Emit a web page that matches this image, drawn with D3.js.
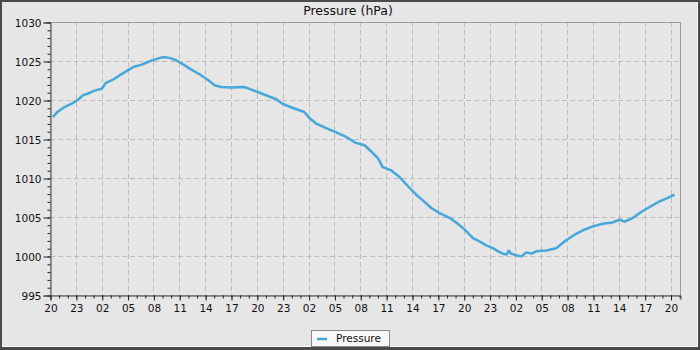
<!DOCTYPE html>
<html><head><meta charset="utf-8">
<script src="https://cdn.jsdelivr.net/npm/d3@7"></script>
<style>
html,body{margin:0;padding:0;background:#e6e6e6;}
svg{display:block;font-family:"DejaVu Sans",sans-serif;}
</style></head>
<body><svg id="c" width="700" height="350"></svg>
<script>
// Data: hours after start (20:00 day 1) and pressure (hPa)
const hours = [0.33,0.9,1.68,2.46,3.23,3.8,4.58,5.16,6.0,6.5,7.3,8.07,9.03,9.8,10.58,11.35,12.13,13.1,13.87,14.64,15.4,16.4,17.35,18.3,19.1,19.87,21.0,22.57,23.2,24.7,26.25,27.0,28.2,29.5,30.1,30.9,32.24,33.2,34.37,35.5,36.5,37.27,38.04,38.6,39.6,40.56,41.5,42.5,43.26,44.24,45.2,46.36,47.2,48.1,49.07,49.84,50.62,51.39,52.16,52.55,53.0,53.24,53.5,54.3,54.7,55.26,55.84,56.42,57.58,58.74,59.7,60.87,62.0,63.0,64.15,65.3,66.1,66.67,67.6,68.6,69.57,70.73,71.7,72.47];
const pressure = [1017.8,1018.5,1019.1,1019.5,1020.0,1020.6,1020.9,1021.2,1021.45,1022.2,1022.6,1023.15,1023.8,1024.3,1024.5,1024.87,1025.17,1025.5,1025.4,1025.1,1024.6,1023.9,1023.3,1022.6,1021.9,1021.67,1021.6,1021.67,1021.4,1020.77,1020.1,1019.5,1018.97,1018.46,1017.7,1016.96,1016.3,1015.85,1015.26,1014.5,1014.2,1013.4,1012.56,1011.4,1010.97,1010.13,1009.0,1007.86,1007.13,1006.15,1005.5,1004.9,1004.23,1003.4,1002.3,1001.87,1001.36,1001.0,1000.5,1000.3,1000.2,1000.7,1000.3,1000.04,999.95,1000.46,1000.3,1000.6,1000.7,1001.0,1001.87,1002.73,1003.37,1003.8,1004.14,1004.3,1004.65,1004.4,1004.87,1005.64,1006.28,1007.0,1007.44,1007.86];
const yTicks = [995,1000,1005,1010,1015,1020,1025,1030];
const xTickHours = [0,3,6,9,12,15,18,21,24,27,30,33,36,39,42,45,48,51,54,57,60,63,66,69,72];
const xTickLabels = ["20","23","02","05","08","11","14","17","20","23","02","05","08","11","14","17","20","23","02","05","08","11","14","17","20"];
const title = "Pressure (hPa)";
const seriesName = "Pressure";

const svg = d3.select("#c");
const L=50, R=680, T=22, B=295;
const x = d3.scaleLinear().domain([0,73.1]).range([L,R]);
const y = d3.scaleLinear().domain([995,1030]).range([B,T]);
const color = "#45a7da";

// frame
svg.append("rect").attr("x",0).attr("y",0).attr("width",700).attr("height",350).attr("fill","#4a4a4a");
svg.append("rect").attr("x",2).attr("y",2).attr("width",696).attr("height",345).attr("fill","#ffffff");
svg.append("rect").attr("x",2).attr("y",2).attr("width",695).attr("height",344).attr("fill","#e6e6e6");

// grid
const g = svg.append("g");
g.selectAll("line.gy").data(yTicks.slice(1,-1)).join("line")
 .attr("x1",L).attr("x2",R).attr("y1",d=>Math.round(y(d))+0.5).attr("y2",d=>Math.round(y(d))+0.5)
 .attr("stroke","#bdbdbd").attr("stroke-dasharray","5,3");
g.selectAll("line.gx").data(xTickHours.slice(1)).join("line")
 .attr("y1",T).attr("y2",B).attr("x1",d=>Math.round(x(d))+0.5).attr("x2",d=>Math.round(x(d))+0.5)
 .attr("stroke","#bdbdbd").attr("stroke-dasharray","5,3");

// plot box
svg.append("rect").attr("x",L+0.5).attr("y",T+0.5).attr("width",R-L).attr("height",B-T)
 .attr("fill","none").attr("stroke","#999");

// axes
const yAxis = d3.axisLeft(y).tickValues(yTicks).tickSize(7).tickPadding(2).tickFormat(d3.format("d"));
const ya = svg.append("g").attr("transform",`translate(${L+0.5},0.5)`).call(yAxis);
const yMinor = d3.axisLeft(y).tickValues(d3.range(995,1031,1)).tickSize(3).tickFormat("");
const ym = svg.append("g").attr("transform",`translate(${L+0.5},0.5)`).call(yMinor);
const xAxis = d3.axisBottom(x).tickValues(xTickHours).tickSize(5).tickPadding(2).tickFormat((d,i)=>xTickLabels[i]);
const xa = svg.append("g").attr("transform",`translate(0.5,${B+0.5})`).call(xAxis);
const xMinor = d3.axisBottom(x).tickValues(d3.range(0,74,1)).tickSize(3).tickFormat("");
const xm = svg.append("g").attr("transform",`translate(0.5,${B+0.5})`).call(xMinor);
[ya,ym,xa,xm].forEach(a=>{
  a.select(".domain").attr("stroke","#777");
  a.selectAll(".tick line").attr("stroke","#222");
  a.selectAll("text").attr("fill","#111").style("font-size","10.5px").style("font-family","DejaVu Sans");
});
xa.selectAll("text").attr("dy","0.9em");
ya.selectAll("text").attr("dy","0.35em");

// line
const data = hours.map((h,i)=>({h, p:pressure[i]}));
svg.append("path").datum(data)
 .attr("fill","none").attr("stroke",color).attr("stroke-width",2.5).attr("stroke-linejoin","round")
 .attr("d",d3.line().x(d=>x(d.h)).y(d=>y(d.p)));

// title
svg.append("text").attr("x",348).attr("y",15).attr("text-anchor","middle")
 .style("font-size","12.5px").attr("fill","#111").text(title);

// legend
const lg = svg.append("g");
lg.append("rect").attr("x",311.5).attr("y",330.5).attr("width",78).attr("height",16)
 .attr("fill","#f7f7f7").attr("stroke","#888");
lg.append("line").attr("x1",317).attr("x2",327).attr("y1",339).attr("y2",339).attr("stroke",color).attr("stroke-width",2.5);
lg.append("text").attr("x",336).attr("y",342).style("font-size","10.5px").attr("fill","#111").text(seriesName);
</script></body></html>
